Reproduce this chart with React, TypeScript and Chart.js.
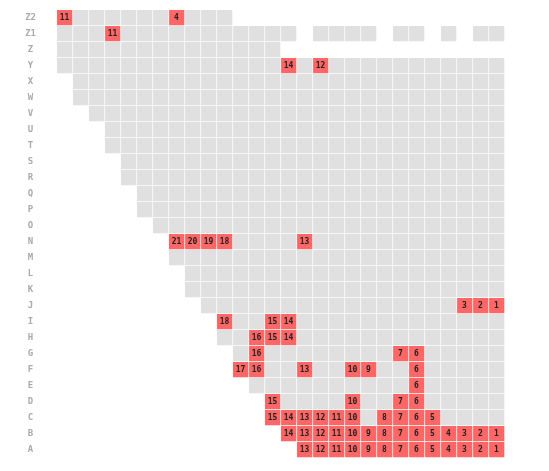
import React, { useEffect, useRef } from "react";
import { Chart, registerables } from "chart.js";

Chart.register(...registerables);

const rowLabels = ["Z2", "Z1", "Z", "Y", "X", "W", "V", "U", "T", "S", "R", "Q", "P", "O", "N", "M", "L", "K", "J", "I", "H", "G", "F", "E", "D", "C", "B", "A"];
const columnCount = 28;
const rowFirstSeat = [0, 0, 0, 0, 1, 1, 2, 3, 3, 4, 4, 5, 5, 6, 7, 7, 8, 8, 9, 10, 10, 11, 11, 12, 13, 13, 14, 15];
const rowLastSeat = [10, 27, 13, 27, 27, 27, 27, 27, 27, 27, 27, 27, 27, 27, 27, 27, 27, 27, 27, 27, 27, 27, 27, 27, 27, 27, 27, 27];
const gapRows = ["Z1", "Z1", "Z1", "Z1"];
const gapCols = [15, 20, 23, 25];

const markedRows = [
  "Z2", "Z2", "Z1", "Y", "Y",
  "N", "N", "N", "N", "N",
  "J", "J", "J",
  "I", "I", "I",
  "H", "H", "H",
  "G", "G", "G",
  "F", "F", "F", "F", "F", "F",
  "E",
  "D", "D", "D", "D",
  "C", "C", "C", "C", "C", "C", "C", "C", "C", "C",
  "B", "B", "B", "B", "B", "B", "B", "B", "B", "B", "B", "B", "B", "B",
  "A", "A", "A", "A", "A", "A", "A", "A", "A", "A", "A", "A", "A",
];
const markedCols = [
  0, 7, 3, 14, 16,
  7, 8, 9, 10, 15,
  25, 26, 27,
  10, 13, 14,
  12, 13, 14,
  12, 21, 22,
  11, 12, 15, 18, 19, 22,
  22,
  13, 18, 21, 22,
  13, 14, 15, 16, 17, 18, 20, 21, 22, 23,
  14, 15, 16, 17, 18, 19, 20, 21, 22, 23, 24, 25, 26, 27,
  15, 16, 17, 18, 19, 20, 21, 22, 23, 24, 25, 26, 27,
];
const markedValues = [
  11, 4, 11, 14, 12,
  21, 20, 19, 18, 13,
  3, 2, 1,
  18, 15, 14,
  16, 15, 14,
  16, 7, 6,
  17, 16, 13, 10, 9, 6,
  6,
  15, 10, 7, 6,
  15, 14, 13, 12, 11, 10, 8, 7, 6, 5,
  14, 13, 12, 11, 10, 9, 8, 7, 6, 5, 4, 3, 2, 1,
  13, 12, 11, 10, 9, 8, 7, 6, 5, 4, 3, 2, 1,
];

const GRAY = "#e0e0e0";
const RED = "#ff6666";

function findMark(row: string, col: number): number | null {
  for (let i = 0; i < markedRows.length; i++) {
    if (markedRows[i] === row && markedCols[i] === col) return markedValues[i];
  }
  return null;
}

function seatExists(r: number, col: number): boolean {
  if (col < rowFirstSeat[r] || col > rowLastSeat[r]) return false;
  for (let i = 0; i < gapRows.length; i++) {
    if (gapRows[i] === rowLabels[r] && gapCols[i] === col) return false;
  }
  return true;
}

const valueLabelPlugin = {
  id: "valueLabels",
  afterDatasetsDraw(chart: any) {
    const ctx = chart.ctx;
    ctx.save();
    ctx.font = "bold 8px 'DejaVu Sans Mono'";
    ctx.fillStyle = "#222";
    ctx.textAlign = "center";
    ctx.textBaseline = "middle";
    chart.data.datasets.forEach((ds: any, di: number) => {
      const meta = chart.getDatasetMeta(di);
      meta.data.forEach((el: any, ri: number) => {
        const v = ds.marks[ri];
        if (v === null || v === undefined || ds.data[ri] === null) return;
        const cx = (el.x + el.base) / 2 - 0.5;
        ctx.fillText(String(v), cx, el.y - 0.5);
      });
    });
    ctx.restore();
  },
};

export default function App() {
  const ref = useRef<HTMLCanvasElement | null>(null);
  useEffect(() => {
    if (!ref.current) return;
    const datasets = [];
    for (let c = 0; c < columnCount; c++) {
      const data: any[] = [];
      const colors: string[] = [];
      const marks: (number | null)[] = [];
      rowLabels.forEach((row, r) => {
        if (seatExists(r, c)) {
          const m = findMark(row, c);
          data.push([c, c + 1]);
          colors.push(m !== null ? RED : GRAY);
          marks.push(m);
        } else {
          data.push(null);
          colors.push(GRAY);
          marks.push(null);
        }
      });
      datasets.push({
        data,
        marks,
        backgroundColor: colors,
        borderColor: "#ffffff",
        borderWidth: { top: 0, left: 0, right: 1, bottom: 1 },
        borderSkipped: false,
        grouped: false,
        barPercentage: 1,
        categoryPercentage: 1,
      });
    }
    const chart = new Chart(ref.current, {
      type: "bar",
      data: { labels: rowLabels, datasets: datasets as any },
      plugins: [valueLabelPlugin],
      options: {
        indexAxis: "y",
        animation: false,
        responsive: false,
        maintainAspectRatio: false,
        layout: { padding: { left: 0, right: 36, top: 2, bottom: 5 } },
        plugins: { legend: { display: false }, tooltip: { enabled: false } },
        scales: {
          x: { type: "linear", min: 0, max: columnCount, display: false },
          y: {
            type: "category",
            grid: { display: false, drawTicks: false },
            border: { display: false },
            ticks: {
              crossAlign: "center",
              padding: 21,
              color: "#aaaaaa",
              font: { family: "'DejaVu Sans Mono'", size: 9, weight: "bold" },
            },
            afterFit(scale: any) {
              scale.width = 49;
              scale.paddingTop = 0;
              scale.paddingBottom = 0;
            },
          },
        },
      } as any,
    });
    return () => chart.destroy();
  }, []);
  return <canvas ref={ref} width={533} height={455} style={{ display: "block" }} />;
}
